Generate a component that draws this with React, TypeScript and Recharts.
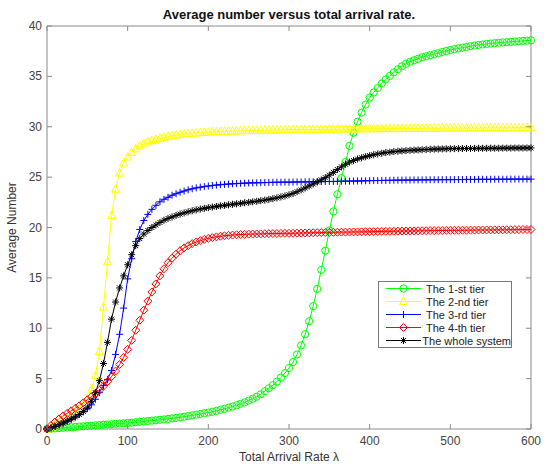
import React from 'react';
import { LineChart, Line, XAxis, YAxis, Legend } from 'recharts';

const arrivalRate = [
  0, 5, 10, 15, 20, 25, 30, 35, 40, 45,
  50, 55, 60, 65, 70, 75, 80, 85, 90, 95,
  100, 105, 110, 115, 120, 125, 130, 135, 140, 145,
  150, 155, 160, 165, 170, 175, 180, 185, 190, 195,
  200, 205, 210, 215, 220, 225, 230, 235, 240, 245,
  250, 255, 260, 265, 270, 275, 280, 285, 290, 295,
  300, 305, 310, 315, 320, 325, 330, 335, 340, 345,
  350, 355, 360, 365, 370, 375, 380, 385, 390, 395,
  400, 405, 410, 415, 420, 425, 430, 435, 440, 445,
  450, 455, 460, 465, 470, 475, 480, 485, 490, 495,
  500, 505, 510, 515, 520, 525, 530, 535, 540, 545,
  550, 555, 560, 565, 570, 575, 580, 585, 590, 595,
  600,
];

const tier1 = [
  0, 0.03, 0.06, 0.09, 0.12, 0.15, 0.18, 0.21, 0.24, 0.27,
  0.3, 0.33, 0.36, 0.39, 0.42, 0.45, 0.48, 0.51, 0.54, 0.57,
  0.6, 0.63, 0.67, 0.71, 0.75, 0.79, 0.83, 0.87, 0.91, 0.95,
  1.0, 1.05, 1.1, 1.16, 1.22, 1.28, 1.35, 1.42, 1.49, 1.56,
  1.63, 1.71, 1.8, 1.9, 2.0, 2.11, 2.23, 2.36, 2.5, 2.65,
  2.82, 3.0, 3.2, 3.45, 3.75, 4.05, 4.35, 4.7, 5.1, 5.55,
  6.05, 6.65, 7.4, 8.3, 9.4, 10.7, 12.2, 13.9, 15.8, 17.7,
  19.7, 21.6, 23.3, 24.9, 26.5, 28.1, 29.4, 30.5, 31.4, 32.2,
  32.9, 33.4, 33.85, 34.3, 34.7, 35.05, 35.4, 35.7, 36.0, 36.25,
  36.45, 36.6, 36.75, 36.9, 37.0, 37.1, 37.2, 37.3, 37.42, 37.52,
  37.62, 37.7, 37.78, 37.85, 37.92, 38.0, 38.06, 38.12, 38.17, 38.22,
  38.26, 38.3, 38.34, 38.37, 38.4, 38.43, 38.46, 38.49, 38.52, 38.55,
  38.58,
];

const tier2 = [
  0, 0.2, 0.4, 0.6, 0.82, 1.05, 1.3, 1.6, 1.95, 2.4,
  3.0, 3.9, 5.3, 7.7, 12.1, 16.6, 21.2, 23.8, 25.4, 26.4,
  27.0, 27.45, 27.8, 28.1, 28.3, 28.5, 28.62, 28.74, 28.85, 28.95,
  29.03, 29.1, 29.17, 29.22, 29.27, 29.31, 29.35, 29.38, 29.41, 29.44,
  29.46, 29.48, 29.5, 29.52, 29.54, 29.55, 29.57, 29.58, 29.6, 29.61,
  29.62, 29.63, 29.64, 29.65, 29.66, 29.67, 29.68, 29.68, 29.69, 29.7,
  29.7, 29.71, 29.71, 29.72, 29.72, 29.73, 29.73, 29.74, 29.74, 29.75,
  29.75, 29.76, 29.76, 29.77, 29.77, 29.78, 29.78, 29.79, 29.79, 29.8,
  29.8, 29.8, 29.81, 29.81, 29.81, 29.82, 29.82, 29.82, 29.83, 29.83,
  29.83, 29.84, 29.84, 29.84, 29.85, 29.85, 29.85, 29.86, 29.86, 29.86,
  29.86, 29.87, 29.87, 29.87, 29.87, 29.88, 29.88, 29.88, 29.88, 29.89,
  29.89, 29.89, 29.89, 29.89, 29.9, 29.9, 29.9, 29.9, 29.9, 29.9,
  29.9,
];

const tier3 = [
  0, 0.12, 0.27, 0.42, 0.58, 0.76, 0.96, 1.18, 1.42, 1.7,
  2.02, 2.4, 2.95, 3.6, 4.3, 4.9, 5.8, 7.4, 9.4, 12.0,
  14.9, 16.9, 18.6, 19.8, 20.7, 21.3, 21.8, 22.2, 22.55, 22.8,
  23.0, 23.2, 23.35, 23.5, 23.62, 23.74, 23.84, 23.93, 24.0, 24.06,
  24.12, 24.17, 24.21, 24.25, 24.28, 24.31, 24.34, 24.36, 24.38, 24.4,
  24.42, 24.43, 24.44, 24.45, 24.46, 24.47, 24.48, 24.49, 24.49, 24.5,
  24.5, 24.51, 24.52, 24.52, 24.53, 24.54, 24.54, 24.55, 24.56, 24.56,
  24.57, 24.57, 24.58, 24.59, 24.6, 24.6, 24.61, 24.62, 24.63, 24.64,
  24.65, 24.66, 24.66, 24.67, 24.68, 24.68, 24.69, 24.7, 24.7, 24.71,
  24.71, 24.72, 24.72, 24.73, 24.73, 24.74, 24.74, 24.74, 24.75, 24.75,
  24.75, 24.76, 24.76, 24.76, 24.77, 24.77, 24.77, 24.78, 24.78, 24.78,
  24.78, 24.79, 24.79, 24.79, 24.79, 24.8, 24.8, 24.8, 24.8, 24.8,
  24.8,
];

const tier4 = [
  0, 0.35, 0.7, 1.0, 1.3, 1.55, 1.8, 2.05, 2.3, 2.6,
  2.9, 3.2, 3.5, 3.85, 4.25, 4.7, 5.2, 5.75, 6.4, 7.1,
  7.9, 8.8, 9.8, 10.8, 11.8, 12.7, 13.6, 14.4, 15.2, 15.9,
  16.5, 16.95, 17.35, 17.7, 17.98, 18.2, 18.4, 18.56, 18.7, 18.82,
  18.92, 19.0, 19.07, 19.13, 19.18, 19.22, 19.25, 19.28, 19.3, 19.32,
  19.34, 19.35, 19.36, 19.37, 19.38, 19.39, 19.4, 19.4, 19.41, 19.42,
  19.42, 19.43, 19.44, 19.45, 19.46, 19.47, 19.48, 19.49, 19.5, 19.5,
  19.51, 19.52, 19.53, 19.54, 19.54, 19.55, 19.56, 19.56, 19.57, 19.58,
  19.58, 19.59, 19.6, 19.61, 19.62, 19.62, 19.63, 19.64, 19.65, 19.65,
  19.66, 19.66, 19.67, 19.68, 19.68, 19.69, 19.69, 19.7, 19.7, 19.71,
  19.71, 19.72, 19.72, 19.73, 19.73, 19.74, 19.74, 19.75, 19.75, 19.76,
  19.76, 19.77, 19.77, 19.77, 19.78, 19.78, 19.79, 19.79, 19.8, 19.8,
  19.8,
];

const wholeSystem = [
  0, 0.1, 0.25, 0.42, 0.6, 0.8, 1.0, 1.2, 1.45, 1.75,
  2.1, 2.75, 3.6, 4.8, 6.5, 8.6, 10.9, 12.6, 14.0, 15.2,
  16.3, 17.3, 18.2, 18.9, 19.35, 19.7, 20.0, 20.25, 20.5, 20.72,
  20.9, 21.05, 21.2, 21.33, 21.45, 21.56, 21.66, 21.75, 21.83, 21.9,
  21.97, 22.03, 22.09, 22.15, 22.2, 22.25, 22.3, 22.35, 22.4, 22.45,
  22.5, 22.55, 22.6, 22.66, 22.72, 22.79, 22.86, 22.94, 23.03, 23.13,
  23.25, 23.38, 23.55, 23.73, 23.92, 24.12, 24.32, 24.52, 24.72, 24.95,
  25.2, 25.47, 25.75, 26.02, 26.28, 26.5, 26.65, 26.8, 26.92, 27.03,
  27.13, 27.22, 27.3, 27.37, 27.43, 27.48, 27.53, 27.57, 27.6, 27.63,
  27.66, 27.68, 27.7, 27.72, 27.74, 27.76, 27.78, 27.79, 27.8, 27.81,
  27.82, 27.83, 27.83, 27.84, 27.84, 27.85, 27.85, 27.86, 27.86, 27.86,
  27.87, 27.87, 27.87, 27.88, 27.88, 27.88, 27.89, 27.89, 27.89, 27.9,
  27.9,
];

const xTicks = [0, 100, 200, 300, 400, 500, 600];
const yTicks = [0, 5, 10, 15, 20, 25, 30, 35, 40];

const seriesNames = ['The 1-st tier', 'The 2-nd tier', 'The 3-rd tier', 'The 4-th tier', 'The whole system'];

const FONT = '"Liberation Sans", Arial, Helvetica, sans-serif';
const AXIS = '#8a8a8a';
const TICK_TEXT = '#444';

const data = arrivalRate.map((x, i) => ({
  x,
  t1: tier1[i],
  t2: tier2[i],
  t3: tier3[i],
  t4: tier4[i],
  all: wholeSystem[i],
}));

type Kind = 'circle' | 'triangle' | 'plus' | 'diamond' | 'star';

const series: { key: string; name: string; color: string; kind: Kind }[] = [
  { key: 't1', name: seriesNames[0], color: '#00ff00', kind: 'circle' },
  { key: 't2', name: seriesNames[1], color: '#ffff00', kind: 'triangle' },
  { key: 't3', name: seriesNames[2], color: '#0000ff', kind: 'plus' },
  { key: 't4', name: seriesNames[3], color: '#ff0000', kind: 'diamond' },
  { key: 'all', name: seriesNames[4], color: '#000000', kind: 'star' },
];

const Marker = ({ kind, color, cx, cy }: { kind: Kind; color: string; cx: number; cy: number }) => {
  const common = { fill: 'none', stroke: color, strokeWidth: 1 };
  switch (kind) {
    case 'circle':
      return <circle cx={cx} cy={cy} r={3.6} {...common} />;
    case 'triangle':
      return <polygon points={`${cx},${cy - 4.5} ${cx + 4},${cy + 3} ${cx - 4},${cy + 3}`} {...common} />;
    case 'diamond':
      return <polygon points={`${cx},${cy - 4} ${cx + 4},${cy} ${cx},${cy + 4} ${cx - 4},${cy}`} {...common} />;
    case 'plus':
      return (
        <path d={`M${cx - 3.5},${cy}H${cx + 3.5}M${cx},${cy - 3.5}V${cy + 3.5}`} {...common} />
      );
    default:
      return (
        <path
          d={`M${cx - 3.5},${cy}H${cx + 3.5}M${cx},${cy - 3.5}V${cy + 3.5}M${cx - 2.5},${cy - 2.5}L${cx + 2.5},${cy + 2.5}M${cx - 2.5},${cy + 2.5}L${cx + 2.5},${cy - 2.5}`}
          {...common}
        />
      );
  }
};

const makeDot = (kind: Kind, color: string) => (props: any) => {
  const { cx, cy, index } = props;
  if (cx == null || cy == null) return <g key={`d-${index}`} />;
  return <Marker key={`d-${index}`} kind={kind} color={color} cx={cx} cy={cy} />;
};

const BottomTick = ({ x, y, payload }: any) => (
  <g>
    <line x1={x} y1={y} x2={x} y2={y - 5} stroke={AXIS} />
    <text x={x} y={y + 16} textAnchor="middle" fontSize={12} fontFamily={FONT} fill={TICK_TEXT}>
      {payload.value}
    </text>
  </g>
);

const TopTick = ({ x, y }: any) => <line x1={x} y1={y} x2={x} y2={y + 5} stroke={AXIS} />;

const LeftTick = ({ x, y, payload }: any) => (
  <g>
    <line x1={x} y1={y} x2={x + 5} y2={y} stroke={AXIS} />
    <text x={x - 5} y={y + 4} textAnchor="end" fontSize={12} fontFamily={FONT} fill={TICK_TEXT}>
      {payload.value}
    </text>
  </g>
);

const RightTick = ({ x, y }: any) => <line x1={x} y1={y} x2={x - 5} y2={y} stroke={AXIS} />;

const LegendBox = () => (
  <div style={{ border: '1px solid #777', background: '#fff', width: 132, fontFamily: FONT }}>
    {series.map((s) => (
      <div key={s.key} style={{ display: 'flex', alignItems: 'center', height: 13 }}>
        <svg width={47} height={13} style={{ display: 'block' }}>
          <line x1={7} x2={42} y1={6.5} y2={6.5} stroke={s.color} />
          <Marker kind={s.kind} color={s.color} cx={24.5} cy={6.5} />
        </svg>
        <span style={{ fontSize: 11, color: '#222', whiteSpace: 'nowrap' }}>{s.name}</span>
      </div>
    ))}
  </div>
);

export default function App() {
  return (
    <div style={{ position: 'absolute', left: 0, top: 0, width: 551, height: 464, background: '#fff' }}>
      <LineChart width={551} height={464} data={data} margin={{ top: 25, right: 19, bottom: 0, left: 0 }}>
        <XAxis
          dataKey="x"
          type="number"
          domain={[0, 600]}
          ticks={xTicks}
          interval={0}
          height={35}
          stroke={AXIS}
          tickLine={false}
          tickSize={0}
          tickMargin={0}
          tick={(p: any) => <BottomTick {...p} />}
          label={{ value: 'Total Arrival Rate λ', position: 'insideBottom', offset: 3, fontSize: 12, fontFamily: FONT, fill: '#333' }}
        />
        <XAxis
          xAxisId="top"
          orientation="top"
          dataKey="x"
          type="number"
          domain={[0, 600]}
          ticks={xTicks}
          interval={0}
          height={1}
          stroke={AXIS}
          tickLine={false}
          tickSize={0}
          tickMargin={0}
          tick={(p: any) => <TopTick {...p} />}
          label={{ value: 'Average number versus total arrival rate.', position: 'top', offset: 6, fontSize: 13, fontWeight: 'bold', fontFamily: FONT, fill: '#111' }}
        />
        <YAxis
          type="number"
          domain={[0, 40]}
          ticks={yTicks}
          interval={0}
          width={47}
          stroke={AXIS}
          tickLine={false}
          tickSize={0}
          tickMargin={0}
          tick={(p: any) => <LeftTick {...p} />}
          label={{ value: 'Average Number', angle: -90, position: 'insideLeft', offset: 12, fontSize: 12, fontFamily: FONT, fill: '#333', style: { textAnchor: 'middle' } }}
        />
        <YAxis
          yAxisId="right"
          orientation="right"
          type="number"
          domain={[0, 40]}
          ticks={yTicks}
          interval={0}
          width={1}
          stroke={AXIS}
          tickLine={false}
          tickSize={0}
          tickMargin={0}
          tick={(p: any) => <RightTick {...p} />}
        />
        {/* invisible series so the box axes on top and right get drawn */}
        <Line
          xAxisId="top"
          yAxisId="right"
          dataKey="all"
          stroke="none"
          dot={false}
          activeDot={false}
          legendType="none"
          isAnimationActive={false}
        />
        {series.map((s) => (
          <Line
            key={s.key}
            dataKey={s.key}
            name={s.name}
            type="linear"
            stroke={s.color}
            strokeWidth={1}
            dot={makeDot(s.kind, s.color)}
            activeDot={false}
            isAnimationActive={false}
          />
        ))}
        <Legend
          layout="vertical"
          align="center"
          verticalAlign="middle"
          content={() => <LegendBox />}
          wrapperStyle={{ left: 378, top: 281, width: 134, height: 67 }}
        />
      </LineChart>
    </div>
  );
}
